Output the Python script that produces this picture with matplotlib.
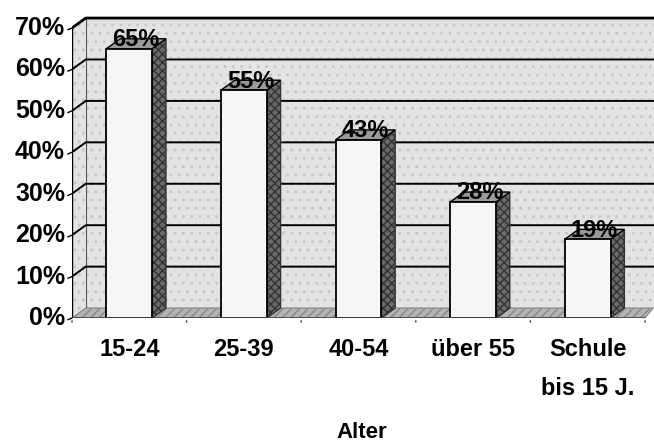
import matplotlib.pyplot as plt
from matplotlib.patches import Polygon, Rectangle

plt.rcParams['font.family'] = ['Liberation Sans', 'DejaVu Sans']

categories = ['15-24', '25-39', '40-54', 'über 55', 'Schule\nbis 15 J.']
values = [65, 55, 43, 28, 19]
yticks = [0, 10, 20, 30, 40, 50, 60, 70]
xlabel = 'Alter'

# pseudo-3D depth offsets (data units)
dx, dy = 0.12, 2.4
ymax = 70

fig = plt.figure(figsize=(6.54, 4.45), dpi=100)
# pixel layout: x axis 72..645, y 0% at 318, 70% at 28
x0, x1 = 72, 645
unit = (x1 - x0) / len(categories)
y0px, y70px = 318, 28
yunit = (y0px - y70px) / ymax
ax = fig.add_axes([x0 / 654, (445 - y0px) / 445, (654 - x0) / 654, (y0px - 8) / 445])
ax.set_xlim(0, (654 - x0) / unit)
ax.set_ylim(0, (y0px - 8) / yunit)
ax.axis('off')

xend = ax.get_xlim()[1] + 0.5
wall = '#e3e3e3'
# back wall and left side wall
ax.add_patch(Polygon([(dx, dy), (xend, dy), (xend, ymax + dy), (dx, ymax + dy)],
                     closed=True, facecolor=wall, edgecolor='#c8c8c8', hatch='..',
                     lw=0, zorder=0))
ax.add_patch(Polygon([(0, 0), (dx, dy), (dx, ymax + dy), (0, ymax)],
                     closed=True, facecolor=wall, edgecolor='#c8c8c8', hatch='..',
                     lw=0, zorder=0))
ax.plot([dx, dx], [dy, ymax + dy], color='#555555', lw=0.8, zorder=1)

# floor
n = len(categories)
ax.add_patch(Polygon([(0, 0), (n, 0), (n + dx * 0.6, dy), (dx, dy)],
                     closed=True, facecolor='#b4b4b4', edgecolor='#888888',
                     hatch='////', lw=0.8, zorder=1))

# gridlines on side wall and back wall
for v in yticks[1:]:
    lw = 2.0 if v == ymax else 1.4
    ax.plot([0, dx, xend], [v, v + dy, v + dy], color='black', lw=lw, zorder=1)

# bars
w = 0.4
for i, v in enumerate(values):
    left = i + 0.3
    right = left + w
    ax.add_patch(Polygon([(right, 0), (right + dx, dy), (right + dx, v + dy), (right, v)],
                         closed=True, facecolor='#6a6a6a', edgecolor='#333333',
                         hatch='xxxx', lw=1.0, zorder=3))
    ax.add_patch(Polygon([(left, v), (right, v), (right + dx, v + dy), (left + dx, v + dy)],
                         closed=True, facecolor='#9a9a9a', edgecolor='black',
                         lw=1.0, zorder=3))
    ax.add_patch(Rectangle((left, 0), w, v, facecolor='#f6f6f6', edgecolor='black',
                           lw=1.3, zorder=4))
    ax.text(i + 0.56, v - 0.6, f'{v}%', ha='center', va='bottom', fontsize=17,
            fontweight='bold', zorder=5)

# front axes
ax.plot([0, 0], [0, ymax], color='black', lw=1.0, zorder=2)
ax.plot([0, n], [0, 0], color='#444444', lw=1.2, zorder=5)
for v in yticks:
    ax.plot([-0.035, 0], [v - 0.4, v], color='black', lw=1.0, zorder=2, clip_on=False)
    ax.annotate(f'{v}%', xy=(0, v), xytext=(-5, 0), textcoords='offset points',
                ha='right', va='center', fontsize=18, fontweight='bold',
                annotation_clip=False)
for i in range(n + 1):
    ax.annotate('', xy=(i, 0), xytext=(0, -5), textcoords='offset points',
                arrowprops=dict(arrowstyle='-', color='#444444', lw=1.0),
                annotation_clip=False)

for i, c in enumerate(categories):
    lines = c.split('\n')
    for k, line in enumerate(lines):
        ax.annotate(line, xy=(i + 0.5, 0), xytext=(0, -23 - 28 * k),
                    textcoords='offset points', ha='center', va='center',
                    fontsize=17, fontweight='bold', annotation_clip=False)

fig.text(362 / 654, 1 - 433 / 445, xlabel, ha='center', va='center', fontsize=16,
         fontweight='bold')

fig.savefig('out.png', dpi=100)
